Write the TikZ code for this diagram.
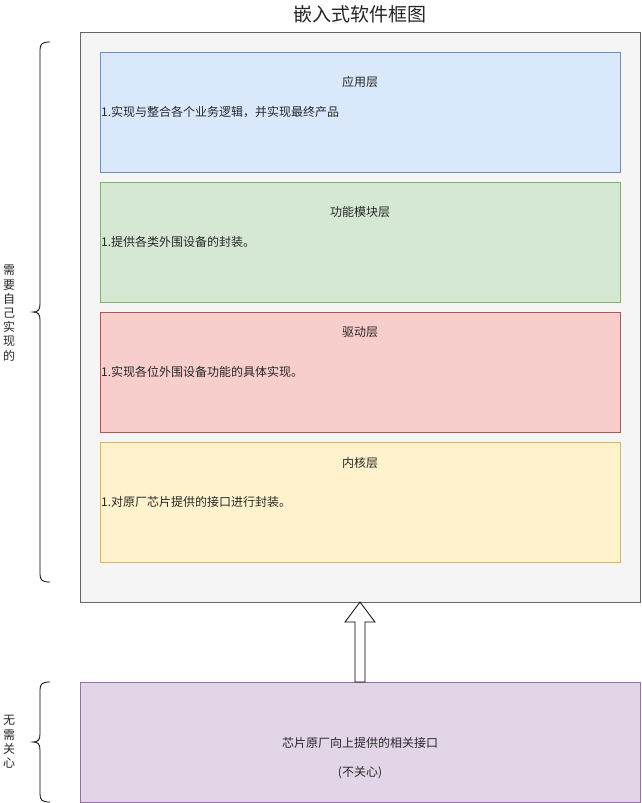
\documentclass[tikz,border=0pt]{standalone}
\usepackage{fontspec}
\setmainfont{Noto Sans CJK SC}
\usetikzlibrary{calc}

\definecolor{outerfill}{HTML}{F5F5F5}
\definecolor{outerline}{HTML}{666666}
\definecolor{appfill}{HTML}{DAE8FC}
\definecolor{appline}{HTML}{6C8EBF}
\definecolor{funcfill}{HTML}{D5E8D4}
\definecolor{funcline}{HTML}{82B366}
\definecolor{drvfill}{HTML}{F8CECC}
\definecolor{drvline}{HTML}{B85450}
\definecolor{kerfill}{HTML}{FFF2CC}
\definecolor{kerline}{HTML}{D6B656}
\definecolor{chipfill}{HTML}{E1D5E7}
\definecolor{chipline}{HTML}{9673A6}

\tikzset{
  box/.style={draw, line width=0.8pt, inner sep=0pt, outer sep=0pt,
              minimum width=#1, anchor=north west},
  layer/.style n args={2}{box=520pt, minimum height=120pt, fill=#1, draw=#2},
  txt/.style={font=\fontsize{12}{14}\selectfont, inner sep=0pt, text=black!85},
  vtxt/.style={txt, align=center, font=\fontsize{12}{14.2}\selectfont},
  bracestyle/.style={draw=black, line width=0.8pt},
}

\begin{document}
\begin{tikzpicture}[x=1pt, y=-1pt]
\useasboundingbox (0,0) rectangle (641,803);

% title
\node[txt, font=\fontsize{19}{22}\selectfont] (title) at (360,14) {嵌入式软件框图};

% outer frame holding the self-implemented layers
\node[box=560pt, minimum height=570pt, fill=outerfill, draw=outerline] (frame) at (80,32) {};

% the four layers
\node[layer={appfill}{appline}]  (app)  at (100,52)  {};
\node[layer={funcfill}{funcline}] (func) at (100,182) {};
\node[layer={drvfill}{drvline}]  (drv)  at (100,312) {};
\node[layer={kerfill}{kerline}]  (ker)  at (100,442) {};

\node[txt] (apptitle) at (360,82) {应用层};
\node[txt, anchor=west] (appdesc) at (101,112) {1.实现与整合各个业务逻辑，并实现最终产品};

\node[txt] (functitle) at (360,212) {功能模块层};
\node[txt, anchor=west] (funcdesc) at (101,242) {1.提供各类外围设备的封装。};

\node[txt] (drvtitle) at (360,332) {驱动层};
\node[txt, anchor=west] (drvdesc) at (101,372) {1.实现各位外围设备功能的具体实现。};

\node[txt] (kertitle) at (360,463) {内核层};
\node[txt, anchor=west] (kerdesc) at (101,502) {1.对原厂芯片提供的接口进行封装。};

% vendor interface box
\node[box=560pt, minimum height=120pt, fill=chipfill, draw=chipline] (chip) at (80,682) {};
\node[txt] (chiptitle) at (360,743) {芯片原厂向上提供的相关接口};
\node[txt] (chipnote) at (360,773) {(不关心)};

% block arrow from the vendor interface up into the frame
\draw[line width=0.8pt, fill=white]
  ($(chip.north)+(-5,0)$) -- ($(frame.south)+(-5,20)$) -- ($(frame.south)+(-15,20)$)
  -- (frame.south) -- ($(frame.south)+(15,20)$) -- ($(frame.south)+(5,20)$)
  -- ($(chip.north)+(5,0)$) -- cycle;

% braces on the left
\coordinate (btop) at (50,42);
\coordinate (bbot) at (50,582);
\draw[bracestyle] (btop) .. controls (42,42) and (40,44) .. (40,50) -- (40,304)
  .. controls (40,310) and (38,312) .. (33,312)
  .. controls (38,312) and (40,314) .. (40,320) -- (40,574)
  .. controls (40,580) and (42,582) .. (bbot);

\coordinate (ctop) at (50,682);
\coordinate (cbot) at (50,802);
\draw[bracestyle] (ctop) .. controls (42,682) and (40,684) .. (40,690) -- (40,734)
  .. controls (40,740) and (38,742) .. (33,742)
  .. controls (38,742) and (40,744) .. (40,750) -- (40,794)
  .. controls (40,800) and (42,802) .. (cbot);

\node[vtxt] (selflabel) at (9,313) {需\\要\\自\\己\\实\\现\\的};
\node[vtxt] (carelabel) at (9,742) {无\\需\\关\\心};
\end{tikzpicture}
\end{document}
